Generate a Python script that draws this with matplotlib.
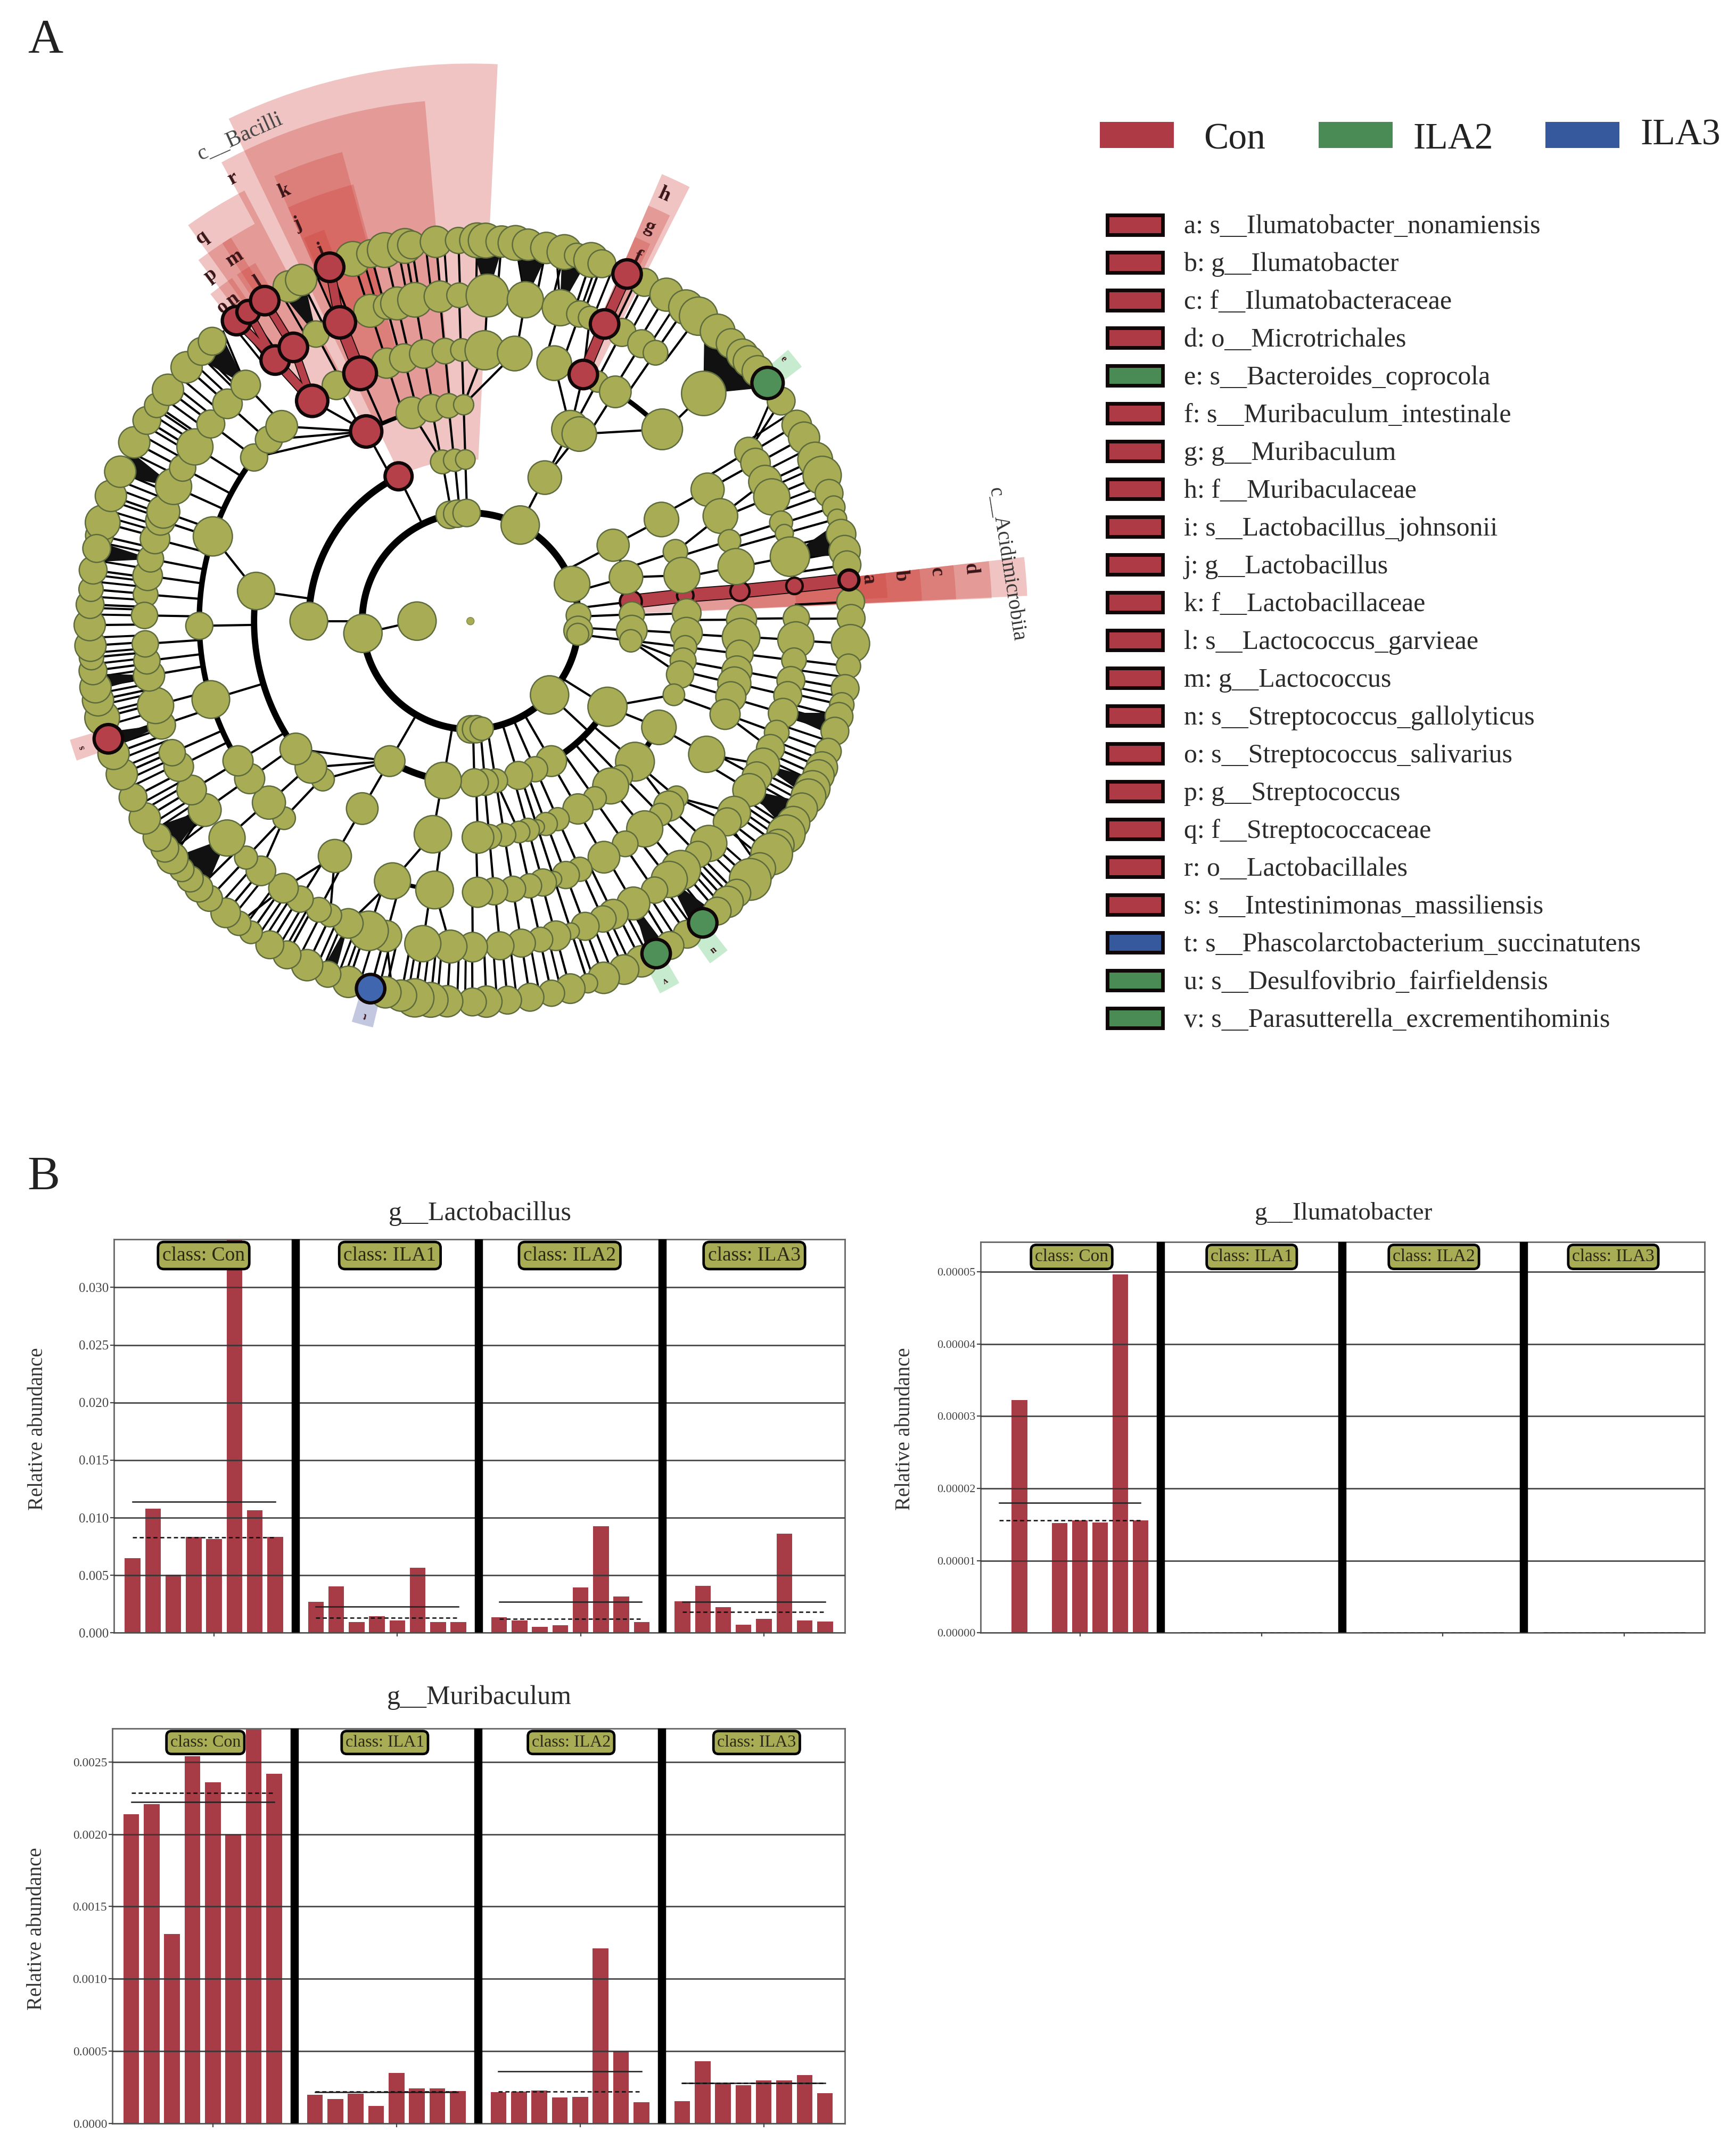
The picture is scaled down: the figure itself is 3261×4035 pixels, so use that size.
import numpy as np
import matplotlib
matplotlib.use('Agg')
import matplotlib.pyplot as plt
from matplotlib.patches import Circle, Wedge, Rectangle, Polygon

plt.rcParams['font.family'] = ['Liberation Serif', 'DejaVu Serif']

# ---------- cladogram data: angle of each node per ring (deg) and its size ----------
ring_radius = [0, 39, 79, 118, 158, 198, 238, 278]

ring1_ang = [180]
ring1_size = [14]
ring2_ang = [186.5, 101, 97, 92, 62.6, 20, 3, -5, -7, -43, -90, -87, -84]
ring2_size = [14, 10, 10, 10, 14, 13, 9, 10.5, 8, 14, 10, 10, 8.5]
ring3_ang = [116.4, 180, 100, 95.6, 91.8, 62.6, 28, 15.7, 6.9, 2.4, -3.4, -7, -32, -60, -66.4, -72.7,
             -81, -84.8, -88.6, -99.7, -120]
ring3_size = [9.5, 13.5, 8.5, 8, 7, 12, 11.5, 12, 8, 9, 11, 8, 14, 11, 9, 10, 8.5, 9.5, 10, 13, 11]
ring4_ang = [172, 118.8, 105.7, 100.3, 95.8, 91.8, 62.5, 59.8, 28, 18.7, 12.2, 6.8, 2.1, -3.2, -6.9, -10.6,
             -14.3, -19.9, -29.4, -40.5, -45.9, -49.6, -54.9, -60.2, -66.2, -69.6, -72, -74.6, -77, -81,
             -85, -88, -100, -120, -133, -137.5, -143.8]
ring4_size = [13, 11, 11, 9.5, 8.5, 7, 13, 12, 12, 8.5, 12.5, 6, 10, 11, 8, 9, 9.5, 7.5, 12, 13.5, 8,
              12.5, 8, 10.5, 8, 8, 5, 8, 7.5, 8, 8.5, 11, 13, 11, 8, 11, 11]
ring5_ang = [161.8, 142.9, 138, 134.1, 125.7, 119.6, 114, 108, 104.2, 99.9, 95.4, 91.8, 87, 80.6, 72, 65.4,
             62, 57.7, 45, 29, 22.8, 17.2, 11.6, 6.3, 0.3, -3.4, -6.9, -10.6, -13.3, -16.2, -20.1, -29.4,
             -40.5, -43, -45.5, -50, -55.2, -60.5, -66.2, -69.4, -72, -74.5, -77.4, -81, -85, -88.5, -97.6,
             -106.7, -120, -133.4, -138, -144.5, -149, -163.2, -179]
ring5_size = [13, 9, 9, 10.5, 11, 9.5, 11.5, 10, 9.5, 9.5, 8.5, 7.5, 13, 11.5, 11.5, 10, 7, 10.5, 13.5, 11,
              11.5, 7.5, 12, 7, 10, 12.5, 9, 10, 11, 10, 10, 12, 7.5, 10, 7.5, 12, 8.5, 10.5, 8, 9, 5, 9, 8,
              8.5, 9, 10, 12.5, 12, 11, 7.5, 11, 10, 10, 12.5, 9]
ring6_ang = [175.3, 172, 169, 165.4, 162, 160.4, 155.6, 152, 147.7, 142.8, 138.2, 133.6, 126.8, 122.9, 118.3,
             113.6, 107.9, 104.9, 103, 99.8, 95.4, 92, 87, 80.3, 74, 70.4, 68.5, 65.7, 62.3, 58.3, 55.4, 44.3,
             31.4, 29, 25.3, 22.4, 17.6, 15.6, 11.4, 6.2, 0.5, -3.3, -6.9, -10.5, -13.2, -16.4, -20, -23, -26.1,
             -28.5, -31.2, -36, -38, -43, -45.7, -49.8, -52.4, -55.6, -60, -64, -66, -69.4, -72, -74.8, -77.6,
             -81, -84.8, -89.6, -93.5, -98.4, -105, -108.2, -112, -115.5, -117.7, -121.5, -125, -130, -133.5,
             -138.3, -144.6, -148.8, -153.5, -156.2, -161.4, -165, -170.4, -173, -176, 179]
ring6_size = [7.5, 9, 8, 9, 9, 10, 11, 8, 11, 8.5, 9, 9, 10, 10, 8, 11, 10, 8, 10, 10.5, 9.5, 7.5, 13, 11, 11, 8,
              7, 10, 8.5, 8.5, 7.5, 13.5, 8.5, 9, 10, 11, 7, 5.5, 12, 6, 8, 11, 7.5, 8.5, 8.5, 9, 7.5, 8.5, 10,
              9, 10, 10, 8.5, 11, 8, 12, 11, 8, 10, 9, 8, 8.5, 5, 9, 7.5, 8.5, 8.5, 9, 10, 11, 9.5, 12, 9, 7,
              7.5, 8, 9, 9, 7, 11, 10, 9, 9, 8, 8.5, 11, 9.5, 8, 8, 8]
ring7_ang = [167, 165, 160.8, 156.9, 152, 148.2, 145.5, 142.6, 138.2, 134.9, 132.7, 127.9, 125.7, 122.7, 118.5,
             116.4, 111.7, 108, 105.2, 103, 99.9, 98.9, 95.2, 91.8, 89, 87.7, 85.3, 83.2, 81.3, 78.5, 75.7, 73.8,
             71.5, 69.8, 65.7, 62.8, 59, 55.5, 53.2, 49.5, 46.8, 44.4, 43, 41, 38.7, 35.3, 31, 28.8, 25.1, 22.5,
             19.6, 17.4, 15.6, 13.2, 10.6, 8.5, 6.2, 2.9, 0.4, -3.4, -6.8, -10.2, -12.7, -14.5, -16.8, -20, -22.6,
             -23.9, -26, -27.4, -29.5, -32, -34, -36, -37.7, -40.5, -42.7, -45.6, -47.5, -49.6, -52.4, -55.3,
             -58.4, -60.8, -63.3, -66.2, -69.5, -72, -74.8, -77.7, -81, -84.4, -87.6, -89.7, -93.5, -96, -98.4,
             -100.5, -102.9, -105.2, -108.7, -112, -115.4, -118.8, -121.8, -125.2, -127.5, -130, -133.3, -135.5,
             -137.4, -139.3, -141.5, -143.4, -145.4, -148.8, -152.4, -156.3, -159.6, -162, -165.3, -168, -170,
             -172.5, -174.5, -176.3, -179.4, 177.5, 175.2, 172.3, 169]
ring7_size = [8, 10, 9, 9, 9, 8, 7, 9, 9, 8, 8, 10, 8, 10, 9, 9, 10, 10, 8, 10, 10, 8, 9, 7.5, 10, 10, 9, 10, 9, 9,
              10, 7, 10, 8, 10, 8, 9.5, 10, 11, 10, 8.5, 9, 9, 9, 11, 8, 8.5, 9, 10, 11, 8, 6.5, 5.5, 8.5, 9, 8, 7,
              8, 8, 11, 7, 8, 7, 8, 8, 7.5, 9, 9, 10, 10, 9, 9.5, 11, 9, 12, 9, 12, 8, 9, 8, 10, 8, 8, 10, 9, 8.5,
              9, 5.5, 8.5, 7.5, 8, 8, 9, 8, 9, 10, 11, 9, 9, 10, 9, 7.5, 9, 8, 8, 6.5, 7, 8.5, 7.5, 8, 7.5, 7, 9,
              8, 8, 9, 8, 9, 9, 10, 10, 9, 9, 8, 7, 9, 9, 8, 7, 8, 8]

rings_ang = [None, ring1_ang, ring2_ang, ring3_ang, ring4_ang, ring5_ang, ring6_ang, ring7_ang]
rings_size = [None, ring1_size, ring2_size, ring3_size, ring4_size, ring5_size, ring6_size, ring7_size]
ring_grow = [1, 1, 1, 1.02, 1.05, 1.1, 1.2, 1.27]

# highlighted nodes (ring, angle)
con_nodes = [(3, 116.4), (4, 118.8), (5, 125.7), (5, 114), (6, 126.8), (6, 122.9), (6, 113.6), (7, 127.9),
             (7, 125.7), (7, 122.7), (7, 111.7), (5, 65.4), (6, 65.7), (7, 65.7), (7, 6.2), (7, -162)]
con_nodes_under = [(3, 6.9), (4, 6.8), (5, 6.3), (6, 6.2)]
ila2_nodes = [(7, 38.7), (7, -52.4), (7, -60.8)]
ila3_nodes = [(7, -105.2)]

# thick coloured edges of the enriched clades
red_edges = [(5, 125.7, 6, 126.8, 6), (5, 125.7, 6, 122.9, 5), (6, 122.9, 7, 122.7, 5), (6, 126.8, 7, 125.7, 5),
             (6, 126.8, 7, 127.9, 5), (5, 114, 6, 113.6, 8), (6, 113.6, 7, 111.7, 6), (5, 65.4, 6, 65.7, 7),
             (6, 65.7, 7, 65.7, 7), (3, 6.9, 4, 6.8, 9), (4, 6.8, 5, 6.3, 9), (5, 6.3, 6, 6.2, 9), (6, 6.2, 7, 6.2, 9)]

# arcs joining siblings: radius index, from, to, width
arc_ring = [2, 3, 3, 3, 4, 4, 4, 5, 5, 5, 3]
arc_from = [-180, 116.4, -120, -72, 172, -40.5, 105.7, 143, -106.7, 45, 15.7]
arc_to = [180, 180, -100, -32, 227, -29.4, 118.8, 211, -97.6, 57.7, 28]
arc_width = [5, 5, 5, 4.6, 4.6, 4, 3, 4, 3, 3.5, 1.8]

# converging fans: parent ring, parent angle, first and last child angle
fan_ring = [6, 6, 6, 6, 6, 6, 6, 6, 6, 6, 6, 6, 6, 6, 6, 6, 6, 6, 6]
fan_parent = [87, 80.3, 74, 133.6, 118.3, 155.6, 44.3, 11.4, -16.4, -26.1, -31.2, -52.4, -60, -138.3, -144.6,
              -161.4, 169, -170.4, -112]
fan_start = [85, 78, 72, 131, 116, 153.5, 38, 10, -14, -24.5, -28.5, -50, -59, -134.5, -142, -160.5, 168, -169.5, -111]
fan_end = [90, 83, 76, 136, 120, 157.5, 52, 15, -17.5, -27.5, -33.5, -54, -62, -141.5, -147, -163, 171, -172, -113]

# leaf edges whose node is hidden under its neighbours
hidden_leaf_ang = [164, 163, 161.5, 159.5, 158.2, 155, 153.6, 150.5, 149, 147, 146, 144, 141.5, 140, 137, 135.5,
                   179, 178, 176.3, 174, 173, 170.8, 168, -177.5, -175.2, -173.5, -171.5, -169, -167.2, -166,
                   -164, -160.8, -158.5, -157.2, -155.2, -154, -151, -150, -147.5, -146.5, -144.5, -142.5,
                   -131.5, -128.8, -126.5, -124, -123, -120.5, -119.5, -117, -114, -113, -110.5, -109.5, -107,
                   -104, -101.8, -99.5, -97.2, -95, -92, -90.8, -86, -83, -79.5, -76.2, -71, -68, -65, -62,
                   -57, -54, -51, -48.5, -46.5, -44, -41.5, -39, -35, -33, -30.5, -28.5, -25, -21.5, -18.5,
                   -15.5, -11.5, -8.5, 33, 27, 24, 21, 37, 77, 70.5, 68, 64, 61, 57, 101, 96.8, 94, 106.5, 114, 120,
                   130.5, 128.8]

# shaded clade sectors
sector_from = [87.2, 95, 105.3, 105, 110.5, 117.7, 122, 118.5, 121, 124.8, 126.8, 63.2, 63.8, 64.5,
               2.6, 2.5, 2.6, 2.6, 3.2, -163.5, -106.5, 37.5, -55, -63]
sector_to = [115.7, 118.5, 113.8, 113.8, 113.5, 125.5, 127, 123.3, 124, 126.8, 128.5, 66.8, 66.8, 66.8,
             6.6, 6.6, 6.6, 6.6, 6.6, -160.5, -103.5, 40.5, -52, -60]
sector_rank = [3, 4, 5, 6, 7, 5, 6, 6, 7, 7, 7, 5, 6, 7, 3, 4, 5, 6, 7, 7, 7, 7, 7, 7]
sector_group = ['Con'] * 20 + ['ILA3'] + ['ILA2'] * 3
rank_outer = {3: 407, 4: 381, 5: 355, 6: 330, 7: 305}

letter_ang = {'a': 6, 'b': 6, 'c': 6, 'd': 6, 'e': 40, 'f': 65.3, 'g': 65.5, 'h': 65.6, 'i': 112, 'j': 113.5, 'k': 113.4,
              'l': 122.1, 'm': 123, 'n': 126.4, 'o': 128.3, 'p': 126.9, 'q': 125, 'r': 118.2, 's': -162,
              't': -105, 'u': -53.5, 'v': -61.5}
rank_label_r = {'s': 292, 'g': 316, 'f': 342, 'o': 367}

legend_groups = ['Con', 'ILA2', 'ILA3']
biomarkers = ['a: s__Ilumatobacter_nonamiensis', 'b: g__Ilumatobacter', 'c: f__Ilumatobacteraceae',
              'd: o__Microtrichales', 'e: s__Bacteroides_coprocola', 'f: s__Muribaculum_intestinale',
              'g: g__Muribaculum', 'h: f__Muribaculaceae', 'i: s__Lactobacillus_johnsonii', 'j: g__Lactobacillus',
              'k: f__Lactobacillaceae', 'l: s__Lactococcus_garvieae', 'm: g__Lactococcus',
              'n: s__Streptococcus_gallolyticus', 'o: s__Streptococcus_salivarius', 'p: g__Streptococcus',
              'q: f__Streptococcaceae', 'r: o__Lactobacillales', 's: s__Intestinimonas_massiliensis',
              't: s__Phascolarctobacterium_succinatutens', 'u: s__Desulfovibrio_fairfieldensis',
              'v: s__Parasutterella_excrementihominis']
biomarker_group = ['Con'] * 4 + ['ILA2'] + ['Con'] * 14 + ['ILA3', 'ILA2', 'ILA2']

# ---------- bar panels ----------
classes = ['Con', 'ILA1', 'ILA2', 'ILA3']

lacto_values = [0.00648, 0.0108, 0.00505, 0.00833, 0.00814, 0.0345, 0.01065, 0.00833,
                0.00272, 0.00404, 0.00095, 0.00145, 0.00108, 0.00568, 0.00095, 0.00093,
                0.00135, 0.00108, 0.00055, 0.00066, 0.00396, 0.00925, 0.00317, 0.00093,
                0.00277, 0.0041, 0.00225, 0.00069, 0.00122, 0.00862, 0.00108, 0.001]
lacto_mean = [0.0114, 0.0023, 0.0027, 0.0027]
lacto_median = [0.0083, 0.0013, 0.0012, 0.0018]
lacto_ticks = [0.0, 0.005, 0.010, 0.015, 0.020, 0.025, 0.030]

iluma_values = [0, 3.22e-5, 0, 1.52e-5, 1.56e-5, 1.53e-5, 4.96e-5, 1.56e-5] + [0] * 24
iluma_mean = [1.8e-5, 0, 0, 0]
iluma_median = [1.56e-5, 0, 0, 0]
iluma_ticks = [0.0, 1e-5, 2e-5, 3e-5, 4e-5, 5e-5]

muri_values = [0.00214, 0.00221, 0.00131, 0.00254, 0.00236, 0.0020, 0.0028, 0.00242,
               0.000196, 0.000168, 0.000204, 0.00012, 0.00035, 0.000243, 0.000243, 0.000224,
               0.000215, 0.000221, 0.000226, 0.000178, 0.000183, 0.00121, 0.0005, 0.000146,
               0.000153, 0.00043, 0.000275, 0.000264, 0.000297, 0.000297, 0.000335, 0.00021]
muri_mean = [0.002225, 0.000215, 0.00036, 0.00028]
muri_median = [0.002285, 0.00022, 0.00022, 0.00028]
muri_ticks = [0.0, 0.0005, 0.0010, 0.0015, 0.0020, 0.0025]

group_color = {'Con': '#AD3A44', 'ILA2': '#4A8A55', 'ILA3': '#36589C'}
node_color = {'Con': '#B5404A', 'ILA2': '#4F9058', 'ILA3': '#3F66AE'}
sector_color = {'Con': '#CC3E36', 'ILA2': '#45C060', 'ILA3': '#3A4A9A'}
olive = '#A8AC55'

W, H = 1268.0, 1568.0
PT = 72 / 100 * 3262 / W   # one layout pixel in points
CX, CY = 343.5, 453.4


def pol(r, a):
    a = np.deg2rad(a)
    return r * np.cos(a), r * np.sin(a)


def nearest(a, others):
    d = [((a - p + 180) % 360) - 180 for p in others]
    i = int(np.argmin(np.abs(d)))
    return others[i], abs(d[i])


def on_arc(k, a):
    for rk, a1, a2 in zip(arc_ring, arc_from, arc_to):
        if rk == k and (a - a1) % 360 <= (a2 - a1):
            return True
    return False


fig = plt.figure(figsize=(32.62, 40.35), dpi=100)

ax = fig.add_axes([0, 0, 1, 1])
ax.set_xlim(-CX, W - CX)
ax.set_ylim(-(H - CY), CY)
ax.axis('off')

# sectors
for a1, a2, rk, g in zip(sector_from, sector_to, sector_rank, sector_group):
    ro = rank_outer[rk]
    ri = ring_radius[rk]
    ax.add_patch(Wedge((0, 0), ro, a1, a2, width=ro - ri, fc=sector_color[g], ec='none',
                       alpha=0.3, zorder=1))

# arcs
for k, a1, a2, w in zip(arc_ring, arc_from, arc_to, arc_width):
    t = np.linspace(a1, a2, 200)
    x, y = pol(ring_radius[k], t)
    ax.plot(x, y, color='black', lw=w * PT, zorder=2, solid_capstyle='butt')

# edges: parallel to the radius where a parent or an arc is close, else to the nearest parent
x0, y0 = pol(ring_radius[1], ring1_ang[0])
x1, y1 = pol(ring_radius[2], ring2_ang[0])
ax.plot([x0, x1], [y0, y1], color='black', lw=1.6 * PT, zorder=2)
for k in range(3, 8):
    for a in rings_ang[k]:
        p, d = nearest(a, rings_ang[k - 1])
        x0, y0 = pol(ring_radius[k], a)
        if d < 2.5 or on_arc(k - 1, a):
            x1, y1 = pol(ring_radius[k - 1], a)
        else:
            x1, y1 = pol(ring_radius[k - 1], p)
        ax.plot([x0, x1], [y0, y1], color='black', lw=1.6 * PT, zorder=2)

for a in hidden_leaf_ang:
    x0, y0 = pol(278, a)
    x1, y1 = pol(238, nearest(a, ring6_ang)[0] if nearest(a, ring6_ang)[1] > 2.5 else a)
    ax.plot([x0, x1], [y0, y1], color='black', lw=1.5 * PT, zorder=2)

# stem of the lower right phylum
x0, y0 = pol(79, -43)
x1, y1 = pol(118, -43)
ax.plot([x0, x1], [y0, y1], color='black', lw=1.6 * PT, zorder=2)

# fans
for k, p, a1, a2 in zip(fan_ring, fan_parent, fan_start, fan_end):
    pts = [pol(ring_radius[k], p), pol(ring_radius[k + 1], a1), pol(ring_radius[k + 1], a2)]
    ax.add_patch(Polygon(pts, closed=True, fc='#111111', ec='#111111', lw=1, zorder=2))

# red clade edges
for k0, a0, k1, a1, w in red_edges:
    x0, y0 = pol(ring_radius[k0], a0)
    x1, y1 = pol(ring_radius[k1], a1)
    ax.plot([x0, x1], [y0, y1], color='#140808', lw=(w + 1.4) * PT, zorder=2.6, solid_capstyle='butt')
    ax.plot([x0, x1], [y0, y1], color='#B5404A', lw=w * PT, zorder=2.7, solid_capstyle='butt')

# letters sit under the nodes
for name in biomarkers:
    letter = name[0]
    rank = name[3]
    small = letter in 'estuv'
    ang = letter_ang[letter]
    x, y = pol(rank_label_r[rank] + (6 if small else 0), ang)
    ax.text(x, y, letter, rotation=ang - 90, rotation_mode='anchor', ha='center', va='center',
            fontsize=13 if small else 27, fontweight='bold', color='#3A1518', zorder=3)

# nodes
marked = {}
for n in con_nodes + con_nodes_under:
    marked[n] = 'Con'
for n in ila2_nodes:
    marked[n] = 'ILA2'
for n in ila3_nodes:
    marked[n] = 'ILA3'

ax.add_patch(Circle((0, 0), 2.7, fc=olive, ec='#8A9050', lw=1.2, zorder=5))
for k in range(1, 8):
    for a, s in zip(rings_ang[k], rings_size[k]):
        c = pol(ring_radius[k], a)
        g = marked.get((k, a))
        if g is None:
            ax.add_patch(Circle(c, s * ring_grow[k], fc=olive, ec='#5E6B3C', lw=1.8, zorder=5))
        elif (k, a) in con_nodes_under:
            ax.add_patch(Circle(c, s, fc=node_color[g], ec='#180808', lw=3.2, zorder=4))
        else:
            ax.add_patch(Circle(c, s * 1.04, fc=node_color[g], ec='#100808', lw=4.5, zorder=6))

# everything laid out in image-like coordinates: letters, legend
ov = fig.add_axes([0, 0, 1, 1])
ov.set_xlim(0, W)
ov.set_ylim(H, 0)
ov.axis('off')
ov.patch.set_alpha(0)

ov.text(33, 30, 'A', fontsize=66, ha='center', va='center', color='#222222')
ov.text(32, 860, 'B', fontsize=66, ha='center', va='center', color='#222222')
ov.text(175, 100, 'c__Bacilli', rotation=24, fontsize=30, ha='center', va='center', color='#444444')
ov.text(735, 412, 'c__Acidimicrobiia', rotation=-81, fontsize=28, ha='center', va='center', color='#333333')

for g, x0, tx, ty in zip(legend_groups, [803, 962.7, 1128.4], [879, 1032, 1198], [102, 102, 99]):
    ov.add_patch(Rectangle((x0, 89), 54, 19, fc=group_color[g], ec='none'))
    ov.text(tx, ty, g, fontsize=50, ha='left', va='center', color='#222222')

for i, (name, g) in enumerate(zip(biomarkers, biomarker_group)):
    y = 164 + 27.58 * i
    ov.add_patch(Rectangle((808.5, y - 7.2), 40.5, 14.4, fc=group_color[g], ec='#100808', lw=2.7 * PT))
    ov.text(864.4, y + 1.5, name, fontsize=36, ha='left', va='center', color='#2A2A2A')


# ---------- bar panels ----------
def panel(box, title, title_y, title_fs, label_y, values, means, medians, ticks, fmt, ylim, tick_fs, box_x, box_y, box_fs):
    left, right, top, bottom = box
    a = fig.add_axes([left / W, 1 - bottom / H, (right - left) / W, (bottom - top) / H])
    xs = [g * 9 + b for g in range(4) for b in range(8)]
    a.bar(xs, values, width=0.77, color='#A83C46', zorder=2)
    a.set_xlim(-0.93, 34.98)
    a.set_ylim(0, ylim)
    a.set_yticks(ticks)
    a.set_yticklabels([fmt % t for t in ticks], fontsize=tick_fs, color='#444444')
    a.set_xticks([4 + 9 * g for g in range(4)])
    a.set_xticklabels([])
    a.tick_params(axis='both', length=5, width=1.6, color='#444444', pad=2)
    a.grid(axis='y', color='#333333', lw=1.15 * PT, alpha=0.85, zorder=2.5)
    a.set_axisbelow(False)
    for s in a.spines.values():
        s.set_color('#666666')
        s.set_linewidth(2)
    for sep in (8, 17, 26):
        a.axvline(sep, color='black', lw=6 * PT, zorder=4)
    for g in range(4):
        x0, x1 = 9 * g, 9 * g + 7
        a.plot([x0, x1], [means[g], means[g]], color='#222222', lw=1.0 * PT, zorder=3)
        a.plot([x0, x1], [medians[g], medians[g]], color='#111111', lw=1.0 * PT, ls=(0, (3, 2)), zorder=3)
    for c, bx in zip(classes, box_x):
        a.text((bx - left) / (right - left), (bottom - box_y) / (bottom - top), 'class: ' + c,
               transform=a.transAxes, ha='center', va='center', fontsize=box_fs, color='#2A2A14', zorder=6,
               bbox=dict(boxstyle='round,pad=0.22,rounding_size=0.3', fc=olive, ec='black', lw=3.4))
    ov.text((left + right) / 2 + 0.5, title_y, title, fontsize=title_fs, ha='center', va='center', color='#2A2A2A')
    ov.text(left - 55.5, label_y, 'Relative abundance', rotation=90, fontsize=28,
            ha='center', va='center', color='#333333')


panel((83, 617, 904.5, 1192), 'g__Lactobacillus', 886, 36, 1043, lacto_values, lacto_mean, lacto_median, lacto_ticks, '%.3f',
      0.0342, 18, [148.7, 284.7, 416, 550.8], 916.5, 27)
panel((716, 1244.7, 906.7, 1191.9), 'g__Ilumatobacter', 886, 34, 1043, iluma_values, iluma_mean, iluma_median, iluma_ticks, '%.5f',
      5.41e-5, 16, [782.5, 914, 1047, 1178], 917.5, 24)
panel((82, 617, 1261.8, 1550), 'g__Muribaculum', 1239, 36, 1408, muri_values, muri_mean, muri_median, muri_ticks, '%.4f',
      0.002732, 17, [150, 281, 417, 552.5], 1272, 23)

fig.savefig('out.png', dpi=100)
